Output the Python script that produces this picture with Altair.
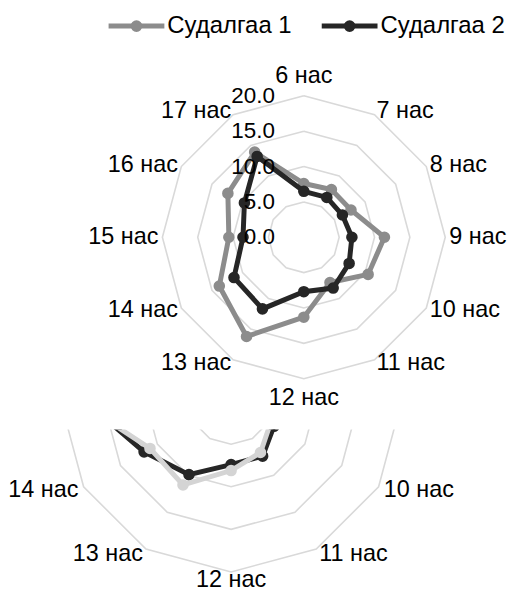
import math
import altair as alt
import pandas as pd

# ---------------- data ----------------
categories = ["6 нас", "7 нас", "8 нас", "9 нас", "10 нас", "11 нас",
              "12 нас", "13 нас", "14 нас", "15 нас", "16 нас", "17 нас"]
series_names = ["Судалгаа 1", "Судалгаа 2"]
values_1 = [7.6, 7.8, 7.7, 11.4, 10.5, 7.4, 11.3, 16.2, 13.8, 10.6, 12.4, 13.9]
values_2 = [6.5, 6.5, 6.3, 6.8, 7.4, 8.3, 7.7, 11.7, 11.4, 8.6, 9.7, 13.2]
ring_values = [5, 10, 15, 20]
tick_values = [0, 5, 10, 15, 20]
tick_labels = ["0.0", "5.0", "10.0", "15.0", "20.0"]

# second radar, only its lower part is visible
lower_categories = ["10 нас", "11 нас", "12 нас", "13 нас", "14 нас", "15 нас"]
lower_values_1 = [5.3, 6.9, 8.1, 11.3, 11.0, 17.9]
lower_values_2 = [5.8, 7.4, 7.4, 9.9, 11.8, 17.1]

# ---------------- layout ----------------
FONT = "Liberation Sans, Arial, sans-serif"
TEXT = "#000000"
GRID = "#d9d9d9"
W = 499
H1, S1, CX1, CY1 = 422, 142 / 20, 296, 229
H2, S2, CX2, CY2 = 164, 171 / 20, 223, -28
N = len(categories)


def ang(k):
    return math.radians(360 / N * k)


def rings_df():
    rows = []
    for r in ring_values:
        for k in range(N + 1):
            a = ang(k % N)
            rows.append({"ring": r, "k": k, "x": r * math.sin(a), "y": r * math.cos(a)})
    return pd.DataFrame(rows)


def series_df(names, cats, vals_list, closed):
    rows = []
    for name, vals in zip(names, vals_list):
        ks = list(range(len(cats))) + ([0] if closed else [])
        for j, i in enumerate(ks):
            k = categories.index(cats[i])
            a = ang(k)
            rows.append({"series": name, "cat": cats[i], "o": j,
                         "x": vals[i] * math.sin(a), "y": vals[i] * math.cos(a),
                         "pt": j < len(cats)})
    return pd.DataFrame(rows)


def labels_df(cats, s, rout_px, gap, top_extra, bottom_extra):
    rows = []
    for c in cats:
        a = ang(categories.index(c))
        sn, cs = math.sin(a), math.cos(a)
        side = "left" if sn > 0.01 else ("right" if sn < -0.01 else "center")
        r = rout_px + gap
        extra = 0
        if side == "center":
            extra = top_extra if cs > 0 else -bottom_extra
        rows.append({"label": c, "side": side,
                     "x": r * sn / s, "y": (r * cs + extra) / s})
    return pd.DataFrame(rows)


def scales(cx, cy, h, s):
    xs = alt.Scale(domain=[-cx / s, (W - cx) / s], nice=False, zero=False)
    ys = alt.Scale(domain=[-(h - cy) / s, cy / s], nice=False, zero=False)
    return xs, ys


def radar_layers(cx, cy, h, s, sdf, ldf, colors, draw_order, clip):
    xs, ys = scales(cx, cy, h, s)
    X = alt.X("x:Q", scale=xs, axis=None)
    Y = alt.Y("y:Q", scale=ys, axis=None)
    color = alt.Color("series:N", scale=alt.Scale(domain=series_names, range=colors),
                      legend=None)
    layers = [
        alt.Chart(rings_df()).mark_line(stroke=GRID, strokeWidth=1.6, clip=clip).encode(
            x=X, y=Y, detail="ring:N", order="k:Q")
    ]
    for name in draw_order:
        d = sdf[sdf["series"] == name]
        layers.append(alt.Chart(d).mark_line(strokeWidth=5, clip=clip).encode(
            x=X, y=Y, color=color, order="o:Q"))
        layers.append(alt.Chart(d[d["pt"]]).mark_point(
            filled=True, size=135, opacity=1, clip=clip).encode(x=X, y=Y, color=color))
    for side in ["left", "right", "center"]:
        d = ldf[ldf["side"] == side]
        if len(d):
            layers.append(alt.Chart(d).mark_text(
                align=side, baseline="middle", font=FONT, fontSize=23.5, color=TEXT).encode(
                x=X, y=Y, text="label:N"))
    return layers, xs, Y, color


# ---------------- top radar ----------------
top_series = series_df(series_names, categories, [values_1, values_2], True)
top_labels = labels_df(categories, S1, 142, 4, 16, 15)
top_layers, xs1, Y1, color1 = radar_layers(
    CX1, CY1, H1, S1, top_series, top_labels, ["#8c8c8c", "#262626"],
    series_names, False)

ticks = pd.DataFrame({"x": [0.0] * len(tick_values), "y": tick_values, "t": tick_labels})
top_layers.append(alt.Chart(ticks).mark_text(
    align="right", baseline="middle", dx=-29, font=FONT, fontSize=22.5, color=TEXT).encode(
    x=alt.X("x:Q", scale=xs1, axis=None), y=Y1, text="t:N"))

# legend built from the series names
leg_y = (CY1 - 17) / S1
leg_start_px = [108, 322]
leg = pd.DataFrame({
    "series": series_names,
    "x0": [(p - 8 - CX1) / S1 for p in leg_start_px],
    "x1": [(p + 56 - 8 - CX1) / S1 for p in leg_start_px],
    "xc": [(p + 28 - 8 - CX1) / S1 for p in leg_start_px],
    "xt": [(p + 59 - 8 - CX1) / S1 for p in leg_start_px],
    "y": [leg_y] * 2,
})
top_layers += [
    alt.Chart(leg).mark_rule(strokeWidth=5).encode(
        x=alt.X("x0:Q", scale=xs1, axis=None), x2="x1:Q", y=Y1, color=color1),
    alt.Chart(leg).mark_point(filled=True, size=135, opacity=1).encode(
        x=alt.X("xc:Q", scale=xs1, axis=None), y=Y1, color=color1),
    alt.Chart(leg).mark_text(align="left", baseline="middle", font=FONT, fontSize=24,
                             color=TEXT).encode(
        x=alt.X("xt:Q", scale=xs1, axis=None), y=Y1, text="series:N"),
]
top = alt.layer(*top_layers).properties(width=W, height=H1)

# ---------------- lower (cropped) radar ----------------
low_series = series_df(series_names, lower_categories, [lower_values_1, lower_values_2], False)
low_labels = labels_df(lower_categories, S2, 171, 6, 0, 2)
low_labels = low_labels[low_labels["y"] < (CY2 - 20) / S2]
low_layers, _, _, _ = radar_layers(
    CX2, CY2, H2, S2, low_series, low_labels, ["#d4d4d4", "#262626"],
    [series_names[1], series_names[0]], True)
bottom = alt.layer(*low_layers).properties(width=W, height=H2)

chart = alt.vconcat(top, bottom, spacing=0).resolve_scale(
    x="independent", y="independent", color="independent"
).properties(padding=0).configure_view(stroke=None)

chart.save("out.html", embed_options={"renderer": "svg", "actions": False})
